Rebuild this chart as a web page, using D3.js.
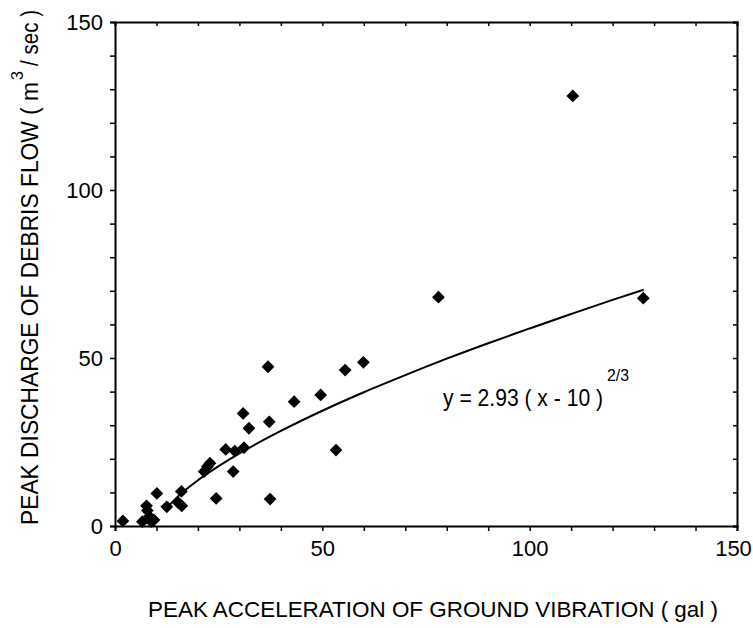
<!DOCTYPE html>
<html><head><meta charset="utf-8">
<script src="https://cdn.jsdelivr.net/npm/d3@7"></script>
<style>
body{margin:0;background:#fff;}
text{font-family:"Liberation Sans Narrow","Arial Narrow","Liberation Sans",sans-serif;fill:#000;}
</style></head>
<body><svg id="c" width="753" height="628"></svg>
<script>
// observed points: peak acceleration (gal) vs peak discharge (m3/sec)
const accel = [1.9, 6.6, 7.6, 7.8, 8.3, 8.8, 9.4, 10.1, 12.5, 15.2, 16.1, 16.0, 21.5, 22.3, 22.9, 24.4, 26.7, 28.5, 28.9, 31.1, 30.9, 32.3, 36.9, 37.2, 37.4, 43.2, 49.6, 53.3, 55.5, 59.9, 78.0, 110.4, 127.4];
const discharge = [1.5, 1.3, 6.0, 4.6, 2.8, 1.3, 1.8, 9.7, 5.7, 7.0, 6.0, 10.3, 16.2, 17.7, 18.7, 8.2, 22.8, 16.2, 22.3, 23.3, 33.5, 29.1, 47.4, 31.0, 8.0, 37.0, 39.0, 22.6, 46.4, 48.7, 68.1, 128.0, 67.8];
// fitted curve points: y = 2.93 (x - 10)^(2/3)
const fitX = [13, 15, 20, 25, 30, 40, 50, 60, 70, 80, 90, 100, 110, 120, 127.5];
const fitY = [6.1, 8.6, 13.6, 17.8, 21.6, 28.3, 34.3, 39.8, 44.9, 49.8, 54.4, 58.8, 63.1, 67.3, 70.3];
const xTicks = [0, 50, 100, 150];
const yTicks = [0, 50, 100, 150];

const svg = d3.select("#c");
const L = 115, R = 737, T = 22, B = 526;
const x = d3.scaleLinear().domain([0, 150]).range([L, R]);
const y = d3.scaleLinear().domain([0, 150]).range([B, T]);
const minor = d3.range(0, 151, 10);

// bottom axis
const gx = svg.append("g").attr("transform", `translate(0,${B})`)
  .call(d3.axisBottom(x).tickValues(minor).tickSize(5).tickFormat(d => xTicks.includes(d) ? d : ""));
gx.selectAll("text").attr("font-size", 22).attr("dy", "1.0em");
gx.selectAll(".tick").filter(d => d === 150).select("text").attr("x", -4);
// left axis
const gy = svg.append("g").attr("transform", `translate(${L},0)`)
  .call(d3.axisLeft(y).tickValues(minor).tickSize(5).tickFormat(d => yTicks.includes(d) ? d : ""));
gy.selectAll("text").attr("font-size", 22).attr("x", -12);
// top axis (inward ticks)
svg.append("g").attr("transform", `translate(0,${T})`)
  .call(d3.axisTop(x).tickValues(minor).tickSize(-4).tickFormat(""));
// right axis (inward ticks)
svg.append("g").attr("transform", `translate(${R},0)`)
  .call(d3.axisRight(y).tickValues(minor).tickSize(-4).tickFormat(""));
svg.selectAll(".domain").attr("stroke-width", 2);
svg.selectAll(".tick line").attr("stroke-width", 1.5);

// fit line
svg.append("path").datum(fitX.map((d, i) => [d, fitY[i]]))
  .attr("d", d3.line().x(d => x(d[0])).y(d => y(d[1])).curve(d3.curveMonotoneX))
  .attr("fill", "none").attr("stroke", "#000").attr("stroke-width", 2);

// points (diamonds)
const sym = d3.symbol().type(d3.symbolSquare).size(82);
svg.append("g").selectAll("path").data(accel.map((d, i) => [d, discharge[i]])).join("path")
  .attr("d", sym)
  .attr("transform", d => `translate(${x(d[0])},${y(d[1])}) rotate(45)`)
  .attr("fill", "#000");

// equation
svg.append("text").attr("x", 443).attr("y", 406).attr("font-size", 24)
  .attr("textLength", 160).attr("lengthAdjust", "spacingAndGlyphs")
  .text("y = 2.93 ( x - 10 )");
svg.append("text").attr("x", 607).attr("y", 381).attr("font-size", 17)
  .attr("textLength", 22).attr("lengthAdjust", "spacingAndGlyphs").text("2/3");

// axis titles
svg.append("text").attr("x", 148).attr("y", 617).attr("font-size", 22.5)
  .attr("textLength", 570).attr("lengthAdjust", "spacingAndGlyphs")
  .text("PEAK ACCELERATION OF GROUND VIBRATION ( gal )");
const yt = svg.append("g").attr("transform", "translate(38,0) rotate(-90)");
yt.append("text").attr("x", -525).attr("y", 0).attr("font-size", 23)
  .attr("textLength", 443).attr("lengthAdjust", "spacingAndGlyphs")
  .text("PEAK DISCHARGE OF DEBRIS FLOW ( m");
yt.append("text").attr("x", -80).attr("y", -15).attr("font-size", 16).text("3");
yt.append("text").attr("x", -66).attr("y", 0).attr("font-size", 23)
  .attr("textLength", 56).attr("lengthAdjust", "spacingAndGlyphs")
  .text("/ sec )");
</script></body></html>
